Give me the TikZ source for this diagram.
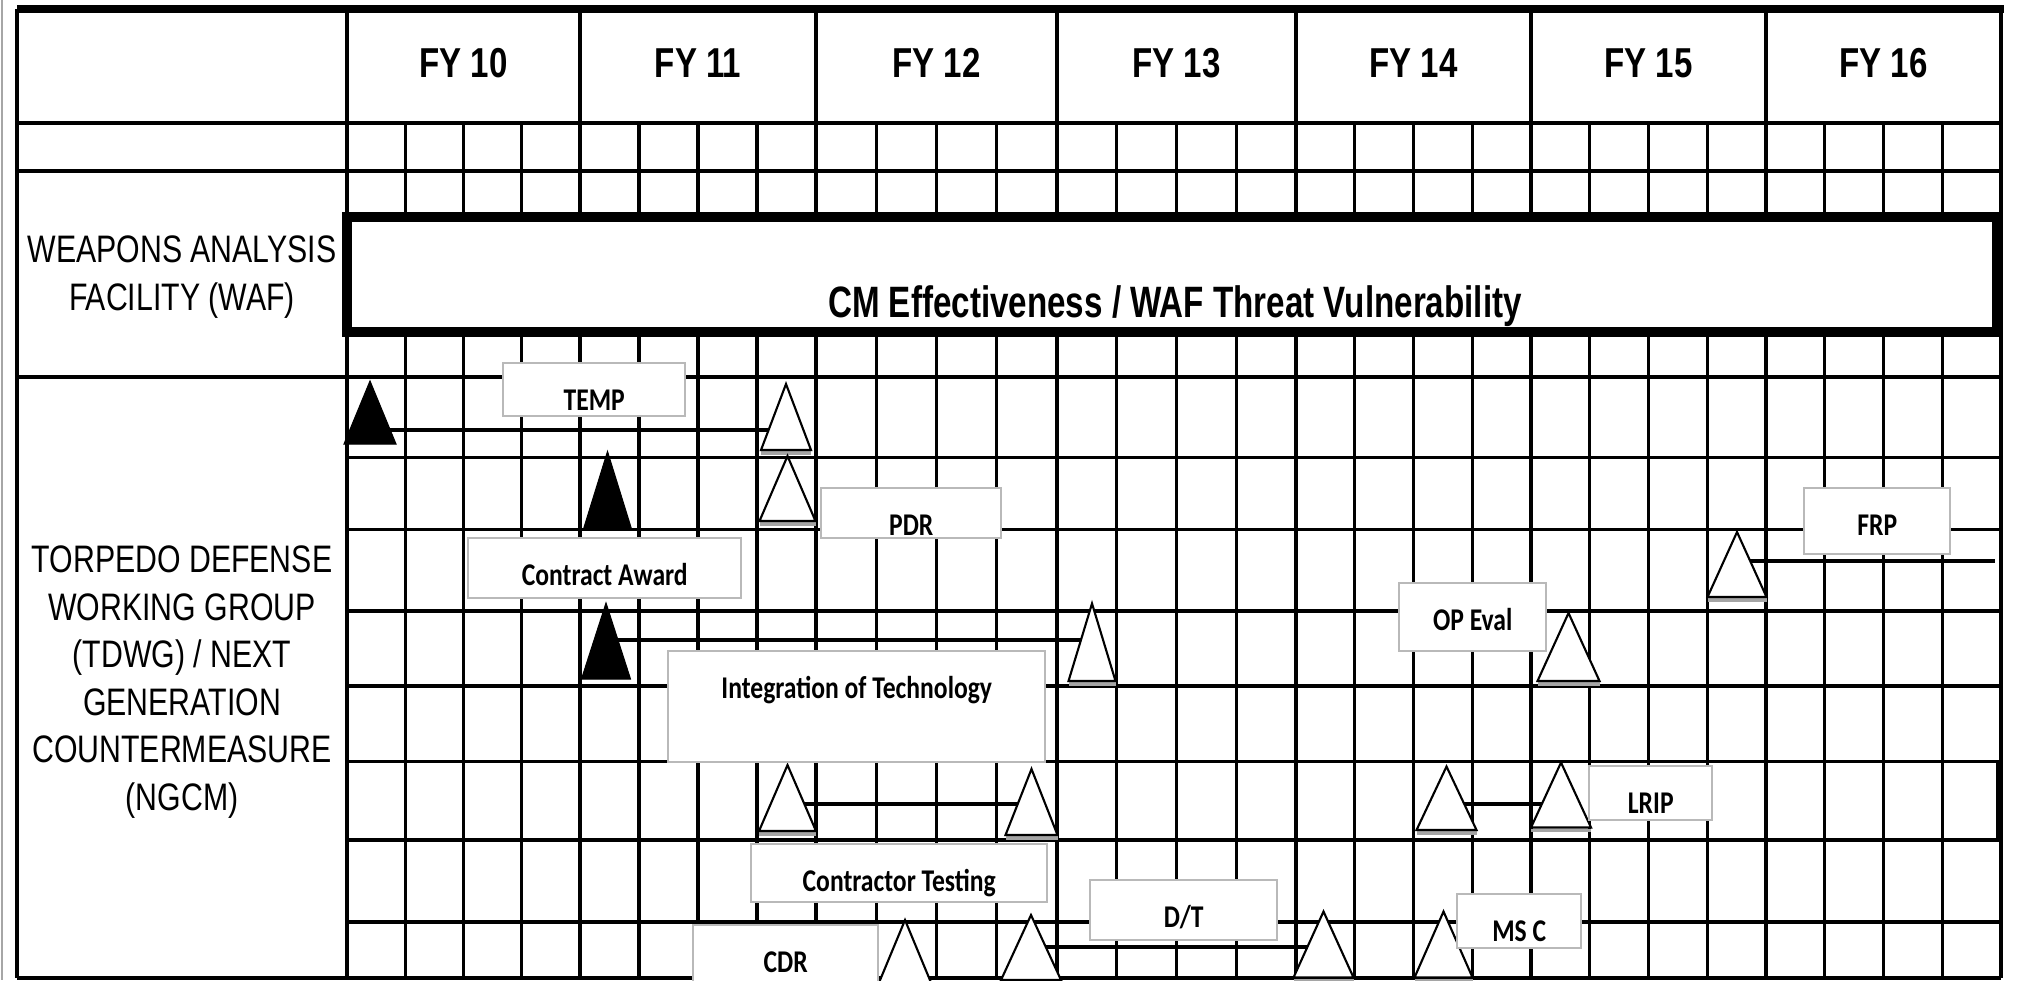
\documentclass[tikz,border=0pt]{standalone}
\usepackage{fontspec}
\setmainfont{Liberation Sans}
\newfontfamily\narrowfont[FakeStretch=0.79]{Liberation Sans}
\newfontfamily\barfont[FakeStretch=0.755]{Liberation Sans}
\newfontfamily\boxfont[FakeStretch=0.81]{Carlito}
\definecolor{boxgray}{RGB}{185,185,185}
\definecolor{shadowgray}{RGB}{165,165,165}

% milestone triangle: style, apex x, apex y, half base, height
\newcommand{\mstone}[5]{%
  \draw[#1] ({#2-#4},{#3+#5}) -- (#2,#3) -- ({#2+#4},{#3+#5}) -- cycle;}

\begin{document}
\begin{tikzpicture}[x=0.1mm, y=-0.1mm,
		grid/.style={line width=0.9pt},
		yrline/.style={line width=1.3pt},
		heavy/.style={line width=1.4pt},
		link/.style={line width=0.9pt},
		btri/.style={fill=black, draw=black, line width=0.3pt},
		wtri/.style={fill=white, draw=black, line width=0.6pt},
		tshadow/.style={draw=shadowgray, line width=0.9pt},
		msbox/.style={draw=boxgray, line width=0.7pt, fill=white, inner sep=0pt,
			anchor=north west, text height=4.75mm,
			font=\boxfont\bfseries\fontsize{9}{10}\selectfont},
		fylabel/.style={font=\narrowfont\bfseries\fontsize{11.9}{14}\selectfont},
		rowlabel/.style={align=center, font=\narrowfont\fontsize{10.9}{13.5}\selectfont}]

	\useasboundingbox (0,0) rectangle (2017,980);
	\clip (0,0) rectangle (2017,980);
	\fill[white] (0,0) rectangle (2017,980);
	\draw[gray!70, line width=0.6pt] (2,0) -- (2,980);

	% quarter lines
	\foreach \a/\b in {347/580, 580/816, 816/1057, 1057/1296, 1296/1531, 1531/1766, 1766/2001} {
		\foreach \k in {1,2,3}
			\draw[grid] ({\a+\k*(\b-\a)/4},123) -- ({\a+\k*(\b-\a)/4},978);
	}
	% year lines
	\foreach \x in {17,347,1057,1766,2001}
		\draw[grid] (\x,9) -- (\x,978);
	\foreach \x in {580,816,1296,1531}
		\draw[yrline] (\x,9) -- (\x,978);

	% rows
	\draw[line width=2.3pt] (17,9) -- (2004,9);
	\draw[grid] (17,123) -- (2001,123);
	\draw[heavy] (17,171) -- (2001,171);
	\draw[heavy] (17,377) -- (2001,377);
	\foreach \y in {457.5,529.5,611,686,761.5,840,922,978}
		\draw[grid] (347,\y) -- (2001,\y);
	\draw[grid] (17,978) -- (347,978);
	\draw[heavy] (1998.5,761.5) -- (1998.5,840);

	% year headers
	\foreach \a/\b/\n in {347/580/10, 580/816/11, 816/1057/12, 1057/1296/13,
			1296/1531/14, 1531/1766/15, 1766/2001/16}
		\node[fylabel] (fy\n) at ({(\a+\b)/2},63) {FY \n};

	\node[rowlabel] (waf) at (182,277) {WEAPONS ANALYSIS\\FACILITY (WAF)};
	\node[rowlabel] (tdwg) at (182,682) {TORPEDO DEFENSE\\WORKING GROUP\\(TDWG) / NEXT\\GENERATION\\COUNTERMEASURE\\(NGCM)};

	\draw[line width=2.6pt, fill=white] (347,217) rectangle (1997,332);
	\node[anchor=base, font=\barfont\bfseries\fontsize{12.5}{15}\selectfont] (cm) at (1175,317)
		{CM Effectiveness / WAF Threat Vulnerability};

	% connectors
	\coordinate (temps) at (385,430);  \coordinate (tempe) at (772,430);
	\coordinate (pdrs)  at (615,640);  \coordinate (pdre)  at (1084,640);
	\coordinate (cts)   at (801,804);  \coordinate (cte)   at (1019,804);
	\coordinate (dts)   at (1044,947); \coordinate (dte)   at (1310,947);
	\coordinate (frps)  at (1748,561); \coordinate (frpe)  at (1995,561);
	\coordinate (lrips) at (1462,804); \coordinate (lripe) at (1543,804);
	\draw[link] (temps) -- (tempe);
	\draw[link] (pdrs) -- (pdre);
	\draw[link] (cts) -- (cte);
	\draw[link] (dts) -- (dte);
	\draw[link] (frps) -- (frpe);
	\draw[link] (lrips) -- (lripe);

	% milestones
	\foreach \x/\y/\w/\h in {370/381/26/63, 607.5/451.5/24/77.5, 606/603/24.5/76}
		\mstone{btri}{\x}{\y}{\w}{\h};
	\foreach \x/\y/\w/\h in {786/384/25/66, 787.5/456/28/65, 1092/603.5/23.5/77.5,
			787.5/765/28.5/66, 1031.5/769/26/66, 905/920/27/65, 1031/915/30/65,
			1323.5/911.5/30/66, 1737/532/29.5/65, 1568.5/613/31/68,
			1446.5/766.5/30/63.5, 1561/762.5/30/65, 1443.5/911.5/29/66} {
		\draw[tshadow] ({\x-\w},{\y+\h+3}) -- ({\x+\w},{\y+\h+3});
		\mstone{wtri}{\x}{\y}{\w}{\h};
	}

	% labels
	\node[msbox, minimum width=18.2mm, text depth=0.55mm] (temp) at (502,362) {TEMP};
	\node[msbox, minimum width=27.3mm, text depth=1.25mm] (award) at (467,537) {Contract Award};
	\node[msbox, minimum width=18mm, text depth=0.25mm] (pdr) at (820,487) {PDR};
	\node[msbox, minimum width=37.7mm, text depth=6.35mm] (integ) at (667,650) {Integration of Technology};
	\node[msbox, minimum width=29.6mm, text depth=1.05mm] (ctest) at (750,843) {Contractor Testing};
	\node[msbox, minimum width=18.5mm, text depth=1.85mm] (cdr) at (692,924) {CDR};
	\node[msbox, minimum width=18.7mm, text depth=1.25mm] (dt) at (1089,879) {D/T};
	\node[msbox, minimum width=14.7mm, text depth=2.05mm] (opeval) at (1398,582) {OP Eval};
	\node[msbox, minimum width=14.6mm, text depth=1.85mm] (frp) at (1803,487) {FRP};
	\node[msbox, minimum width=12.3mm, text depth=0.65mm] (lrip) at (1588,765) {LRIP};
	\node[msbox, minimum width=12.4mm, text depth=0.65mm] (msc) at (1456,893) {MS C};
\end{tikzpicture}
\end{document}
